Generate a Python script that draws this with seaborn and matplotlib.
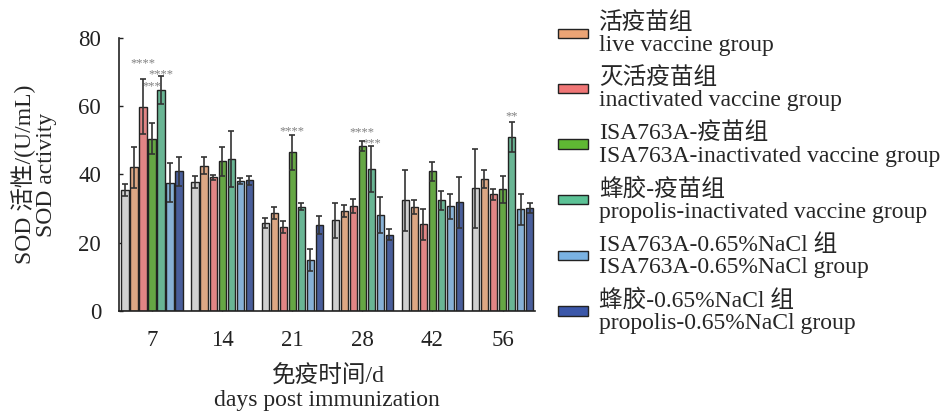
import numpy as np
import pandas as pd
import seaborn as sns
import matplotlib
matplotlib.use("Agg")
import matplotlib.pyplot as plt
from matplotlib.patches import Patch

# Days post immunization
days = ["7", "14", "21", "28", "42", "56"]

# Group names (Chinese / English)
groups_cn = ["对照组", "活疫苗组", "灭活疫苗组", "ISA763A-疫苗组", "蜂胶-疫苗组",
             "ISA763A-0.65%NaCl 组", "蜂胶-0.65%NaCl 组"]
groups_en = ["control group", "live vaccine group", "inactivated vaccine group",
             "ISA763A-inactivated vaccine group", "propolis-inactivated vaccine group",
             "ISA763A-0.65%NaCl group", "propolis-0.65%NaCl group"]

# SOD activity (U/mL), one list per group across the days
control      = [35.5, 37.7, 25.7, 26.6, 32.4, 35.9]
live         = [42.1, 42.6, 28.8, 29.3, 30.4, 38.6]
inactivated  = [59.9, 39.2, 24.6, 30.7, 25.4, 34.2]
isa_vaccine  = [50.5, 43.9, 46.5, 48.4, 40.9, 35.7]
prop_vaccine = [64.8, 44.5, 30.6, 41.6, 32.4, 51.0]
isa_nacl     = [37.6, 38.2, 14.9, 28.2, 30.7, 29.8]
prop_nacl    = [40.9, 38.3, 25.1, 22.4, 31.8, 30.2]

# Standard deviations
control_sd      = [1.7, 1.8, 1.5, 5.1, 9.0, 11.5]
live_sd         = [6.0, 2.4, 1.7, 1.8, 2.0, 2.7]
inactivated_sd  = [8.0, 0.7, 1.8, 2.0, 4.6, 1.6]
isa_vaccine_sd  = [4.5, 4.3, 5.1, 1.4, 2.9, 4.0]
prop_vaccine_sd = [4.0, 8.1, 1.0, 6.8, 2.9, 4.4]
isa_nacl_sd     = [5.7, 0.9, 3.2, 5.2, 3.6, 4.6]
prop_nacl_sd    = [4.3, 1.4, 2.6, 1.7, 7.5, 1.5]

means = [control, live, inactivated, isa_vaccine, prop_vaccine, isa_nacl, prop_nacl]
sds = [control_sd, live_sd, inactivated_sd, isa_vaccine_sd, prop_vaccine_sd,
       isa_nacl_sd, prop_nacl_sd]

colors = ["#d0d0d0", "#eba475", "#f07676", "#5fb833", "#5cc296", "#7ab2e2", "#3b57a9"]

# Significance marks: (day index, group index, label, label height)
stars = [(0, 2, "****", 73.5), (0, 3, "***", 66.8), (0, 4, "****", 70.3),
         (2, 3, "****", 53.7), (3, 3, "****", 53.3), (3, 4, "***", 50.1),
         (5, 4, "**", 58.1)]

rows = []
for g, (m, s) in enumerate(zip(means, sds)):
    for d, v, e in zip(days, m, s):
        rows.append({"day": d, "group": groups_cn[g], "sod": v, "sd": e})
df = pd.DataFrame(rows)

sns.set_theme(style="ticks")
plt.rcParams["font.family"] = ["Liberation Serif", "Noto Sans CJK SC"]
plt.rcParams["axes.unicode_minus"] = False

fig = plt.figure(figsize=(9.46, 4.13), dpi=100)
ax = fig.add_axes([0.126, 0.247, 0.44, 0.661])

sns.barplot(data=df, x="day", y="sod", hue="group", hue_order=groups_cn,
            order=days, palette=colors, errorbar=None, width=0.9, gap=0.18,
            edgecolor="#222222", linewidth=1.0, legend=False, ax=ax)

bar_sets = list(ax.containers)

# Error bars placed on each bar's centre
for g, container in enumerate(bar_sets):
    xs = [p.get_x() + p.get_width() / 2 for p in container.patches]
    hs = [p.get_height() for p in container.patches]
    ax.errorbar(xs, hs, yerr=sds[g], fmt="none", ecolor="#333333",
                elinewidth=1.2, capsize=2.2, capthick=1.2, zorder=5)

for d, g, lab, y in stars:
    p = bar_sets[g].patches[d]
    ax.text(p.get_x() + p.get_width() / 2, y - 1.9, lab, ha="center",
            va="baseline", fontsize=9, color="#808080")

ax.set_ylim(0, 80)
ax.set_xlim(-0.47, 5.47)
ax.set_yticks([0, 20, 40, 60, 80])
ax.tick_params(axis="both", direction="in", length=3, width=1.0,
               labelsize=16.5, colors="#222222")
ax.tick_params(axis="y", pad=13)
ax.tick_params(axis="x", pad=14)
for sp in ["top", "right"]:
    ax.spines[sp].set_visible(False)
for sp in ["left", "bottom"]:
    ax.spines[sp].set_linewidth(1.2)
    ax.spines[sp].set_color("#222222")

ax.set_xlabel("免疫时间/d\ndays post immunization", fontsize=17,
              linespacing=1.15, labelpad=10)
ax.set_ylabel("SOD 活性/(U/mL)\nSOD activity", fontsize=17,
              linespacing=1.0, labelpad=15)

handles = [Patch(facecolor=colors[i], edgecolor="#222222", linewidth=1.0)
           for i in range(1, 7)]
labels = [f"{groups_cn[i]}\n{groups_en[i]}" for i in range(1, 7)]
leg = fig.legend(handles, labels, loc="upper left", bbox_to_anchor=(0.585, 0.982),
                 frameon=False, fontsize=17, handlelength=1.27,
                 handleheight=0.22, handletextpad=0.45, labelspacing=0.47,
                 borderaxespad=0.0, borderpad=0.2)
for t in leg.get_texts():
    t.set_linespacing(1.08)

fig.savefig("out.png", dpi=100)
